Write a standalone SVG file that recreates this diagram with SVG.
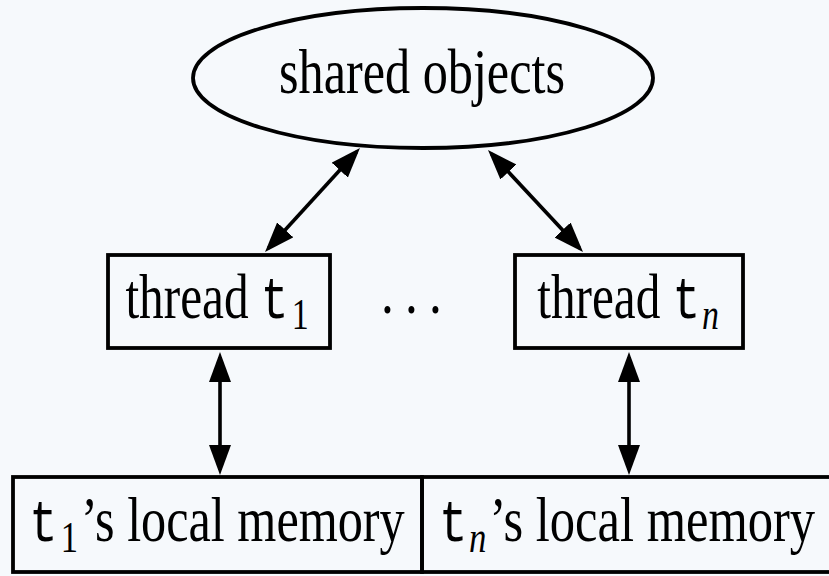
<svg xmlns="http://www.w3.org/2000/svg" width="829" height="576" viewBox="0 0 829 576">
  <style>
    .bg { fill: #f6f9fc; }
    .shape { fill: none; stroke: #000; stroke-width: 3.8; }
    .edge { fill: none; stroke: #000; stroke-width: 3.6; marker-start: url(#head); marker-end: url(#head); }
    .lbl { font-family: "Liberation Serif", "Times New Roman", serif; font-size: 64px; fill: #000; }
    .tt { font-family: "Liberation Mono", "Courier New", monospace; font-size: 60px; }
    .sub { font-size: 44px; }
    .it { font-style: italic; }
  </style>
  <defs>
    <marker id="head" viewBox="0 0 30 22" markerWidth="30" markerHeight="22" refX="25" refY="11" orient="auto-start-reverse" markerUnits="userSpaceOnUse">
      <path d="M0,0 L30,11 L0,22 z" fill="#000"/>
    </marker>
  </defs>

  <rect class="bg" x="0" y="0" width="829" height="576"/>

  <!-- shared store at the top -->
  <g id="shared-objects">
    <ellipse class="shape" cx="423" cy="78" rx="230" ry="70"/>
    <g transform="translate(422,93) scale(0.785,1)">
      <text class="lbl" x="0" y="0" text-anchor="middle">shared objects</text>
    </g>
  </g>

  <!-- first thread -->
  <g id="thread-1">
    <rect class="shape" x="108" y="255" width="222" height="93"/>
    <g transform="translate(217,318) scale(0.77,1)">
      <text class="lbl" x="0" y="0" text-anchor="middle">thread <tspan class="tt">t</tspan><tspan class="sub" dx="4" dy="11">1</tspan></text>
    </g>
  </g>

  <!-- ellipsis between threads -->
  <g id="more-threads">
    <g transform="translate(417,313) scale(0.8,1)">
      <text class="lbl" x="0" y="0" text-anchor="middle" letter-spacing="14">...</text>
    </g>
  </g>

  <!-- last thread -->
  <g id="thread-n">
    <rect class="shape" x="515" y="255" width="228" height="93"/>
    <g transform="translate(628,318) scale(0.77,1)">
      <text class="lbl" x="0" y="0" text-anchor="middle">thread <tspan class="tt">t</tspan><tspan class="sub it" dx="2" dy="11">n</tspan></text>
    </g>
  </g>

  <!-- per-thread local memories -->
  <g id="memory-1">
    <rect class="shape" x="13" y="477" width="409" height="95"/>
    <g transform="translate(217,541) scale(0.785,1)">
      <text class="lbl" x="0" y="0" text-anchor="middle"><tspan class="tt">t</tspan><tspan class="sub" dx="4" dy="11">1</tspan><tspan dx="4" dy="-11">’s local memory</tspan></text>
    </g>
  </g>

  <g id="memory-n">
    <rect class="shape" x="422" y="477" width="420" height="95"/>
    <g transform="translate(627,541) scale(0.79,1)">
      <text class="lbl" x="0" y="0" text-anchor="middle"><tspan class="tt">t</tspan><tspan class="sub it" dx="2" dy="11">n</tspan><tspan dx="4" dy="-11">’s local memory</tspan></text>
    </g>
  </g>

  <!-- two-way connectors -->
  <g id="connectors">
    <line class="edge" x1="356.6" y1="151.7" x2="268.4" y2="248.3"/>
    <line class="edge" x1="491.4" y1="153.7" x2="579.6" y2="248.3"/>
    <line class="edge" x1="220" y1="357" x2="220" y2="470"/>
    <line class="edge" x1="629" y1="357" x2="629" y2="470"/>
  </g>
</svg>
